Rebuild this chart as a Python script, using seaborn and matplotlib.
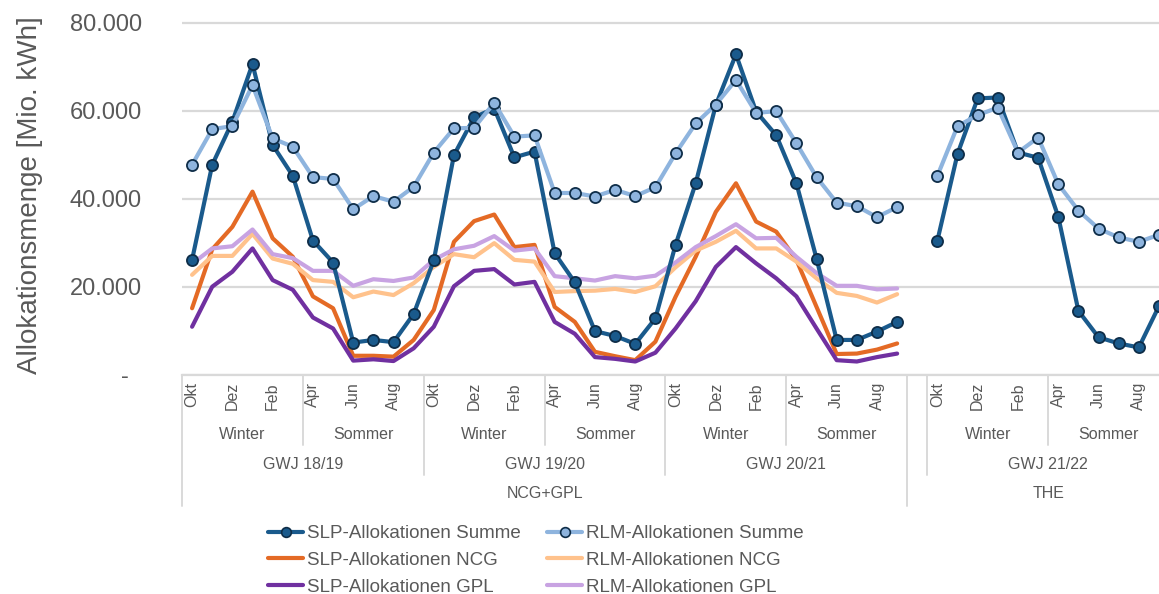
import numpy as np
import pandas as pd
import matplotlib
matplotlib.use("Agg")
import matplotlib.pyplot as plt
import seaborn as sns
from matplotlib import font_manager
from matplotlib.font_manager import FontProperties
from matplotlib.ticker import FuncFormatter, FixedLocator
from matplotlib.lines import Line2D
from matplotlib.transforms import blended_transform_factory

# ---------------- data ----------------
months = ["Okt", "Nov", "Dez", "Jan", "Feb", "Mär", "Apr", "Mai", "Jun", "Jul", "Aug", "Sep"]
seasons = ["Winter", "Sommer"]
years = ["GWJ 18/19", "GWJ 19/20", "GWJ 20/21", "GWJ 21/22"]
areas = ["NCG+GPL", "THE"]
area_of_year = ["NCG+GPL", "NCG+GPL", "NCG+GPL", "THE"]

slp_summe = {
    "GWJ 18/19": [26100, 47700, 57500, 70600, 52200, 45200, 30500, 25500, 7300, 7900, 7400, 13800],
    "GWJ 19/20": [26000, 49900, 58500, 60500, 49400, 50700, 27600, 21000, 9900, 8800, 7000, 12800],
    "GWJ 20/21": [29500, 43500, 61300, 72800, 59800, 54400, 43500, 26400, 7900, 7900, 9800, 12000],
    "GWJ 21/22": [30500, 50200, 62800, 63000, 50500, 49300, 35900, 14500, 8500, 7100, 6200, 15600],
}
rlm_summe = {
    "GWJ 18/19": [47700, 55800, 56500, 65800, 53700, 51800, 44900, 44500, 37600, 40600, 39300, 42700],
    "GWJ 19/20": [50500, 56000, 56100, 61800, 54100, 54400, 41300, 41300, 40500, 42000, 40600, 42600],
    "GWJ 20/21": [50300, 57100, 61400, 67000, 59500, 59900, 52600, 44900, 39100, 38300, 35800, 38100],
    "GWJ 21/22": [45200, 56500, 59000, 60700, 50500, 53900, 43300, 37300, 33200, 31200, 30200, 31800],
}
slp_ncg = {
    "GWJ 18/19": [15100, 28500, 33600, 41600, 31000, 26800, 17800, 15100, 4300, 4300, 4100, 7900],
    "GWJ 19/20": [14700, 30200, 34900, 36400, 29000, 29500, 15400, 12000, 5200, 4200, 3300, 7500],
    "GWJ 20/21": [17700, 26800, 37000, 43500, 34800, 32500, 26100, 15400, 4700, 4800, 5700, 7100],
}
rlm_ncg = {
    "GWJ 18/19": [22700, 27000, 27000, 32000, 26400, 25200, 21500, 21100, 17600, 18900, 18100, 20800],
    "GWJ 19/20": [24500, 27400, 26700, 29900, 26100, 25700, 18800, 19000, 19100, 19500, 18800, 20100],
    "GWJ 20/21": [24400, 28200, 30200, 32700, 28700, 28700, 25700, 21900, 18600, 17900, 16400, 18300],
}
slp_gpl = {
    "GWJ 18/19": [10900, 20000, 23400, 28700, 21500, 19300, 13000, 10500, 3200, 3500, 3100, 6000],
    "GWJ 19/20": [10900, 20100, 23600, 24000, 20500, 21100, 12000, 9300, 4000, 3600, 3000, 5000],
    "GWJ 20/21": [10500, 16700, 24500, 29000, 25300, 21900, 17800, 10500, 3300, 3000, 4000, 4800],
}
rlm_gpl = {
    "GWJ 18/19": [25200, 28700, 29200, 33000, 27400, 26500, 23600, 23600, 20200, 21700, 21300, 22100],
    "GWJ 19/20": [26100, 28500, 29300, 31500, 28200, 28700, 22400, 21900, 21400, 22400, 21900, 22500],
    "GWJ 20/21": [25500, 29000, 31500, 34200, 31000, 31100, 26800, 23100, 20200, 20200, 19400, 19600],
}

series = {
    "SLP-Allokationen Summe": slp_summe,
    "RLM-Allokationen Summe": rlm_summe,
    "SLP-Allokationen NCG": slp_ncg,
    "RLM-Allokationen NCG": rlm_ncg,
    "SLP-Allokationen GPL": slp_gpl,
    "RLM-Allokationen GPL": rlm_gpl,
}

# category positions: 3 years NCG+GPL, one blank category, then THE year
year_start = {}
pos = 0
for i, y in enumerate(years):
    if i > 0 and area_of_year[i] != area_of_year[i - 1]:
        pos += 1  # blank category between market areas
    year_start[y] = pos
    pos += len(months)

rows = []
for name, d in series.items():
    for y, vals in d.items():
        seg = area_of_year[years.index(y)]
        for m, v in enumerate(vals):
            rows.append({"series": name, "x": year_start[y] + m, "value": v, "seg": seg})
df = pd.DataFrame(rows)

# ---------------- style ----------------
sns.set_theme(style="white")
plt.rcParams["font.family"] = ["Liberation Sans", "DejaVu Sans"]
TXT = "#595959"
GRID = "#D9D9D9"

W, H = 1159, 594
fig = plt.figure(figsize=(W / 100, H / 100), dpi=100)
fig.patch.set_facecolor("white")

def fx(px):
    return px / W

def fy(py):
    return 1 - py / H

y0_px, ppk = 374.7, 4.4          # pixel of zero, pixels per 1000
ymax = 81000
top_px = y0_px - ymax / 1000 * ppk
ax = fig.add_axes([fx(182), fy(y0_px), fx(1159 - 182), (y0_px - top_px) / H])
ax.set_facecolor("white")

styles = [
    ("SLP-Allokationen NCG", "#E46A25", None, 2),
    ("RLM-Allokationen NCG", "#FFC28C", None, 2),
    ("SLP-Allokationen GPL", "#7030A0", None, 2),
    ("RLM-Allokationen GPL", "#C8A3E2", None, 2),
    ("SLP-Allokationen Summe", "#1A5A8C", "o", 3),
    ("RLM-Allokationen Summe", "#8EB4DE", "o", 4),
]
EDGE = "#0E2D48"
LW = 3.0
for name, color, marker, z in styles:
    d = df[df["series"] == name]
    kw = dict(lw=LW, color=color, zorder=z)
    if marker:
        kw.update(marker="o", markersize=8, markerfacecolor=color,
                  markeredgecolor=EDGE, markeredgewidth=1.3)
    sns.lineplot(data=d, x="x", y="value", units="seg", estimator=None,
                 ax=ax, legend=False, sort=True, **kw)

ax.set_xlim(-0.5, 48.0)
ax.set_ylim(0, ymax)
ax.yaxis.set_major_locator(FixedLocator([0, 20000, 40000, 60000, 80000]))

def fmt(v, p):
    if abs(v) < 1e-9:
        return "-  "
    return f"{int(v):,}".replace(",", ".")

ax.yaxis.set_major_formatter(FuncFormatter(fmt))
ax.tick_params(axis="y", length=0, pad=29, labelsize=17, labelcolor=TXT)
ax.set_xticks([])
ax.set_xlabel("")
ax.set_ylabel("")
ax.grid(axis="y", color=GRID, lw=1.6, zorder=0)
ax.grid(axis="x", visible=False)
for s in ["top", "right", "left"]:
    ax.spines[s].set_visible(False)
ax.spines["bottom"].set_color(GRID)
ax.spines["bottom"].set_linewidth(1.6)
ax.set_axisbelow(True)

fig.text(fx(30), fy(195), "Allokationsmenge [Mio. kWh]", rotation=90,
         ha="center", va="center", fontsize=20, color=TXT)

# ---------------- hierarchical category axis ----------------
tr = blended_transform_factory(ax.transData, ax.transAxes)
hpx = y0_px - top_px

def ay(py):
    return (y0_px - py) / hpx

def vline(x, py_end):
    ax.plot([x, x], [0, ay(py_end)], transform=tr, color=GRID, lw=1.4,
            clip_on=False, zorder=1)

for i, y in enumerate(years):
    s = year_start[y]
    for m in range(0, 12, 2):
        ax.text(s + m, ay(382), months[m], transform=tr, rotation=90,
                ha="center", va="top", fontsize=11.5, color=TXT, clip_on=False)
    ax.text(s + 2.5, ay(434), seasons[0], transform=tr, ha="center",
            va="center", fontsize=11.5, color=TXT)
    ax.text(s + 8.5, ay(434), seasons[1], transform=tr, ha="center",
            va="center", fontsize=11.5, color=TXT)
    ax.text(s + 5.5, ay(464), y, transform=tr, ha="center", va="center",
            fontsize=11.5, color=TXT)
    vline(s + 5.5, 445)
    if i > 0 and area_of_year[i] == area_of_year[i - 1]:
        vline(s - 0.5, 475)

vline(-0.5, 506)
vline(year_start["GWJ 21/22"] - 1.5, 506)
vline(year_start["GWJ 21/22"] - 0.5, 475)

a_first = year_start["GWJ 18/19"] - 0.5
a_end = year_start["GWJ 20/21"] + 11.5
ax.text((a_first + a_end) / 2, ay(493), areas[0], transform=tr, ha="center",
        va="center", fontsize=11.5, color=TXT)
ax.text(year_start["GWJ 21/22"] + 5.5, ay(493), areas[1], transform=tr,
        ha="center", va="center", fontsize=11.5, color=TXT)

# ---------------- legend ----------------
avail = {f.name for f in font_manager.fontManager.ttflist}
if "Liberation Sans Narrow" in avail:
    lsize = 15.5
    lprop = FontProperties(family="Liberation Sans Narrow", size=lsize)
else:
    lsize = 13.5
    lprop = FontProperties(family="Liberation Sans", size=lsize)
lpx = lsize * 100 / 72

colors = {n: c for n, c, _, _ in styles}

def handle(name):
    c = colors[name]
    if "Summe" in name:
        return Line2D([], [], color=c, lw=LW, marker="o", markersize=7,
                      markerfacecolor=c, markeredgecolor=EDGE, markeredgewidth=1.2)
    return Line2D([], [], color=c, lw=LW)

col1 = ["SLP-Allokationen Summe", "SLP-Allokationen NCG", "SLP-Allokationen GPL"]
col2 = ["RLM-Allokationen Summe", "RLM-Allokationen NCG", "RLM-Allokationen GPL"]
for cols, xpx in [(col1, 268), (col2, 547)]:
    leg = fig.legend([handle(n) for n in cols], cols, loc="upper left",
                     bbox_to_anchor=(fx(xpx), fy(525)), frameon=False,
                     prop=lprop, borderpad=0, borderaxespad=0,
                     handlelength=35 / lpx, handletextpad=4 / lpx,
                     labelspacing=27 / lpx - 0.93)
    for t in leg.get_texts():
        t.set_color(TXT)

fig.savefig("out.png", dpi=100, facecolor="white")
